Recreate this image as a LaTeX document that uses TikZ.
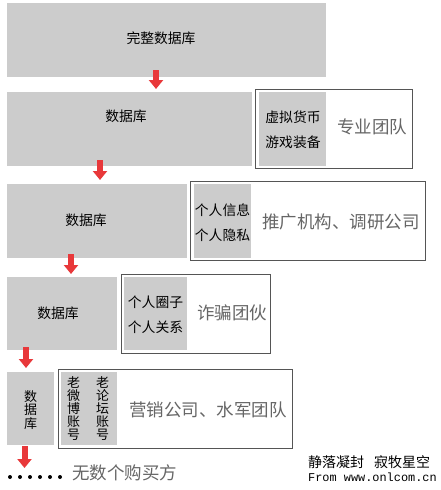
\documentclass[tikz,border=0pt]{standalone}
\usepackage{fontspec}
\setmainfont{Noto Sans CJK SC}
\newfontfamily\monof{Liberation Mono}
\usetikzlibrary{arrows.meta}
\definecolor{boxgray}{HTML}{CCCCCC}
\definecolor{framegray}{HTML}{555555}
\definecolor{txtgray}{HTML}{666666}
\definecolor{arrowred}{HTML}{E8383A}
\begin{document}
\begin{tikzpicture}[x=1pt,y=-1pt,
  grayblk/.style={fill=boxgray, draw=none, inner sep=0pt, anchor=north west},
  frame/.style={draw=framegray, line width=0.9pt, fill=white, inner sep=0pt, anchor=north west},
  blktext/.style={font=\fontsize{13.8}{25}\selectfont, text=black, align=center, inner sep=0pt},
  vtext/.style={font=\fontsize{13}{13.2}\selectfont, text=black, align=center, inner sep=0pt},
  bigtext/.style={font=\fontsize{17.5}{20}\selectfont, text=txtgray, inner sep=0pt},
  redarrow/.style={draw=arrowred, line width=6pt, -{Triangle[width=14pt,length=9pt]}},
  dot/.style={circle, fill=black, inner sep=0pt, minimum size=4pt}
]
\useasboundingbox (0,0) rectangle (441,490);
\fill[white] (0,0) rectangle (441,490);

% Level 1
\node[grayblk, minimum width=319pt, minimum height=74pt] (b1) at (7,3) {};
\node[blktext] (t1) at (161,38) {完整数据库};

% Level 2
\node[grayblk, minimum width=245pt, minimum height=74pt] (b2) at (7,92) {};
\node[blktext] (t2) at (126,116) {数据库};
\node[frame, minimum width=157pt, minimum height=79pt] (f2) at (255,89) {};
\node[grayblk, minimum width=67pt, minimum height=74pt] (g2) at (259,92) {};
\node[blktext] (s2) at (293,129.5) {虚拟货币\\游戏装备};
\node[bigtext] (u2) at (372,127) {专业团队};

% Level 3
\node[grayblk, minimum width=180pt, minimum height=74pt] (b3) at (7,184) {};
\node[blktext] (t3) at (86,220) {数据库};
\node[frame, minimum width=235pt, minimum height=79pt] (f3) at (190,181) {};
\node[grayblk, minimum width=57pt, minimum height=74pt] (g3) at (194,184) {};
\node[blktext] (s3) at (222.5,222.5) {个人信息\\个人隐私};
\node[bigtext] (u3) at (341,222) {推广机构、调研公司};

% Level 4
\node[grayblk, minimum width=110pt, minimum height=73pt] (b4) at (7,277) {};
\node[blktext] (t4) at (58,313) {数据库};
\node[frame, minimum width=149pt, minimum height=79pt] (f4) at (121,274) {};
\node[grayblk, minimum width=63pt, minimum height=73pt] (g4) at (124,277) {};
\node[blktext] (s4) at (155.5,314.5) {个人圈子\\个人关系};
\node[bigtext] (u4) at (232,313) {诈骗团伙};

% Level 5
\node[grayblk, minimum width=47pt, minimum height=73pt] (b5) at (7,372) {};
\node[vtext] (t5) at (30.5,410) {数\\据\\库};
\node[frame, minimum width=234pt, minimum height=79pt] (f5) at (58,369) {};
\node[grayblk, minimum width=56pt, minimum height=73pt] (g5) at (61,372) {};
\node[vtext] (v5a) at (73.5,408.5) {老\\微\\博\\账\\号};
\node[vtext] (v5b) at (102.5,408.5) {老\\论\\坛\\账\\号};
\node[bigtext] (u5) at (208,410) {营销公司、水军团队};

% Arrows
\coordinate (a1s) at (156,70);  \coordinate (a1e) at (156,89);
\coordinate (a2s) at (100,160); \coordinate (a2e) at (100,180);
\coordinate (a3s) at (71,254);  \coordinate (a3e) at (71,274);
\coordinate (a4s) at (26,347);  \coordinate (a4e) at (26,368);
\coordinate (a5s) at (24.5,446);\coordinate (a5e) at (24.5,468);
\draw[redarrow] (a1s) -- (a1e);
\draw[redarrow] (a2s) -- (a2e);
\draw[redarrow] (a3s) -- (a3e);
\draw[redarrow] (a4s) -- (a4e);
\draw[redarrow] (a5s) -- (a5e);

% Buyers
\foreach \i in {0,...,5} {
  \node[dot] (d\i) at (10+10*\i,477) {};
}
\node[bigtext, anchor=west] (buy) at (72,473) {无数个购买方};

% Signature
\node[font=\fontsize{14}{16}\selectfont, anchor=west, inner sep=0pt] (sig1) at (308,462) {静落凝封\hspace{10pt}寂牧星空};
\node[font=\monof\fontsize{11.9}{13}\selectfont, anchor=west, inner sep=0pt] (sig2) at (308,477) {From www.onlcom.cn};
\end{tikzpicture}
\end{document}
